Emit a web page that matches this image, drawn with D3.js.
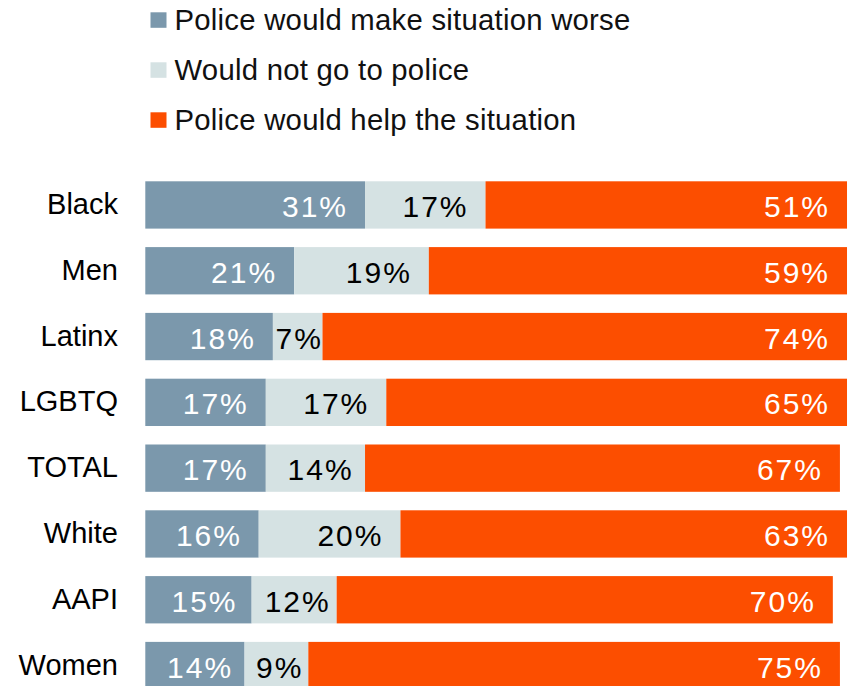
<!DOCTYPE html>
<html>
<head>
<meta charset="utf-8">
<script src="https://cdn.jsdelivr.net/npm/d3@7"></script>
<style>
  html, body { margin: 0; padding: 0; background: #fff; overflow: hidden; }
  svg { display: block; font-family: "Liberation Sans", Helvetica, Arial, sans-serif; }
</style>
</head>
<body>
<svg id="chart" width="851" height="686"></svg>
<script>
const categories = ["Black", "Men", "Latinx", "LGBTQ", "TOTAL", "White", "AAPI", "Women"];
const seriesNames = ["Police would make situation worse", "Would not go to police", "Police would help the situation"];
const worse = [31, 21, 18, 17, 17, 16, 15, 14];
const notGo = [17, 19, 7, 17, 14, 20, 12, 9];
const help = [51, 59, 74, 65, 67, 63, 70, 75];
const colors = ["#7B98AC", "#D5E2E3", "#FC4E00"];
const labelColors = ["#ffffff", "#000000", "#ffffff"];

const svg = d3.select("#chart");

const x = d3.scaleLinear().domain([0, 100]).range([145.3, 854.1]);
const y = d3.scaleBand().domain(categories).range([181.3, 689.2]).paddingInner(0.281).paddingOuter(0);

const rows = categories.map((c, i) => ({ cat: c, worse: worse[i], notGo: notGo[i], help: help[i] }));
const stack = d3.stack().keys(["worse", "notGo", "help"]);
const layers = stack(rows);

// Legend
const legend = svg.append("g");
seriesNames.forEach((name, i) => {
  const cy = 20 + i * 50;
  legend.append("rect").attr("x", 150.5).attr("y", cy - 7.7).attr("width", 16).attr("height", 15.5).attr("fill", colors[i]);
  legend.append("text").attr("x", 174.5).attr("y", cy + 10).attr("font-size", 29.3)
    .attr("letter-spacing", 0.25).attr("fill", "#111").text(name);
});

// Bars
const layerG = svg.append("g").selectAll("g").data(layers).join("g").attr("fill", (d, i) => colors[i]);
layerG.selectAll("rect").data(d => d).join("rect")
  .attr("x", d => x(d[0]))
  .attr("y", d => y(d.data.cat))
  .attr("width", d => x(d[1]) - x(d[0]))
  .attr("height", y.bandwidth());

// Value labels
const ls = 2;
layers.forEach((layer, li) => {
  layer.forEach(d => {
    const t = svg.append("text")
      .attr("y", y(d.data.cat) + y.bandwidth() / 2 + 12)
      .attr("font-size", 30)
      .attr("letter-spacing", ls)
      .attr("text-anchor", "end")
      .attr("fill", labelColors[li])
      .text((d[1] - d[0]) + "%");
    const tw = t.node().getComputedTextLength() - ls;
    const segW = x(d[1]) - x(d[0]);
    const pad = Math.max(1, Math.min(19, 0.38 * (segW - tw)));
    t.attr("x", x(d[1]) - pad + ls);
  });
});

// Category labels
svg.append("g").selectAll("text").data(categories).join("text")
  .attr("x", 118)
  .attr("y", d => y(d) + y.bandwidth() / 2 + 9)
  .attr("text-anchor", "end")
  .attr("font-size", 29)
  .attr("fill", "#000")
  .text(d => d);
</script>
</body>
</html>
